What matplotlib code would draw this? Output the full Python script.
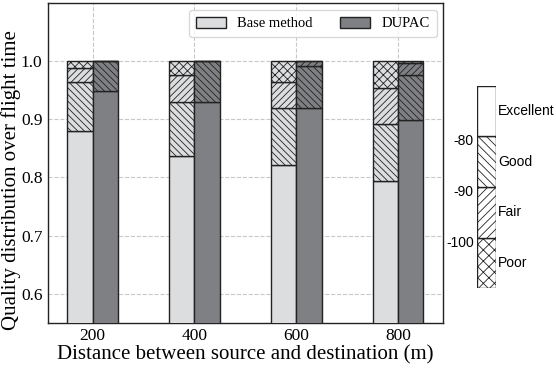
import matplotlib
matplotlib.use("Agg")
import matplotlib.pyplot as plt
import numpy as np
from matplotlib.patches import Patch

# distance groups
distances = ["200", "400", "600", "800"]
levels = ["Excellent", "Good", "Fair", "Poor"]
thresholds = ["-80", "-90", "-100"]

# fraction of flight time in each quality level
base_excellent = [0.879, 0.836, 0.822, 0.794]
base_good = [0.085, 0.093, 0.097, 0.098]
base_fair = [0.025, 0.047, 0.045, 0.061]
base_poor = [0.011, 0.024, 0.036, 0.047]

dupac_excellent = [0.949, 0.930, 0.920, 0.899]
dupac_good = [0.051, 0.070, 0.072, 0.077]
dupac_fair = [0.000, 0.000, 0.008, 0.021]
dupac_poor = [0.000, 0.000, 0.000, 0.003]

BASE_COLOR = "#dcdddf"
DUPAC_COLOR = "#7f8083"
EDGE = "#222222"
BAR_HATCHES = ["", "\\" * 5, "/" * 5, "x" * 4]
KEY_HATCHES = ["", "\\" * 4, "/" * 4, "x" * 3]

plt.rcParams["hatch.linewidth"] = 0.6
plt.rcParams["font.family"] = "Liberation Serif"

fig = plt.figure(figsize=(5.56, 3.72), dpi=100)
ax = fig.add_axes([0.0863, 0.1325, 0.710, 0.8595])

x = np.arange(len(distances))
w = 0.25


def stack(ax, xpos, parts, color):
    bottom = np.zeros(len(xpos))
    for vals, hatch in zip(parts, BAR_HATCHES):
        vals = np.array(vals)
        ax.bar(xpos, vals, w, bottom=bottom, color=color, hatch=hatch,
               edgecolor=EDGE, linewidth=1.0, zorder=3)
        bottom += vals


stack(ax, x - w / 2, [base_excellent, base_good, base_fair, base_poor], BASE_COLOR)
stack(ax, x + w / 2, [dupac_excellent, dupac_good, dupac_fair, dupac_poor], DUPAC_COLOR)

ax.set_xlim(-0.44, 3.44)
ax.set_ylim(0.55, 1.1)
ax.set_xticks(x)
ax.set_xticklabels(distances, fontsize=12.5)
ax.set_yticks([0.6, 0.7, 0.8, 0.9, 1.0])
ax.set_yticklabels(["0.6", "0.7", "0.8", "0.9", "1.0"], fontsize=12.5)
ax.tick_params(length=0, pad=4)
ax.grid(True, linestyle="--", color="#c8c8c8", linewidth=0.8, zorder=0)
ax.set_axisbelow(True)
for s in ax.spines.values():
    s.set_color(EDGE)
    s.set_linewidth(1.0)

ax.set_xlabel("Distance between source and destination (m)", fontsize=15, labelpad=1)
ax.set_ylabel("Quality distribution over flight time", fontsize=15)
ax.yaxis.set_label_coords(-0.068, 0.447)

handles = [Patch(facecolor=BASE_COLOR, edgecolor=EDGE, label="Base method"),
           Patch(facecolor=DUPAC_COLOR, edgecolor=EDGE, label="DUPAC")]
ax.legend(handles=handles, ncol=2, loc="upper right", fontsize=10.5,
          frameon=True, edgecolor="#d0d0d0", fancybox=True,
          handlelength=2.05, handleheight=0.85, handletextpad=0.8,
          columnspacing=1.9, borderpad=0.45, borderaxespad=0,
          bbox_to_anchor=(0.985, 0.978))

# quality level key on the right
kax = fig.add_axes([0.8585, 0.225, 0.033, 0.545])
key_heights = [1, 1, 1, 1]
bottom = 0
for i, hatch in enumerate(KEY_HATCHES[::-1]):
    kax.bar(0, key_heights[i], 1.0, bottom=bottom, color="white", hatch=hatch,
            edgecolor=EDGE, linewidth=1.0)
    bottom += key_heights[i]
kax.set_xlim(-0.5, 0.5)
kax.set_ylim(0, 4)
kax.axis("off")

for i, name in enumerate(levels):
    kax.text(0.64, 3.5 - i, name, ha="left", va="center", fontsize=10,
             family="Liberation Sans")
for i, t in enumerate(thresholds):
    kax.text(-0.7, 2.9 - i, t, ha="right", va="center", fontsize=10,
             family="Liberation Sans")

fig.savefig("out.png", dpi=100)
